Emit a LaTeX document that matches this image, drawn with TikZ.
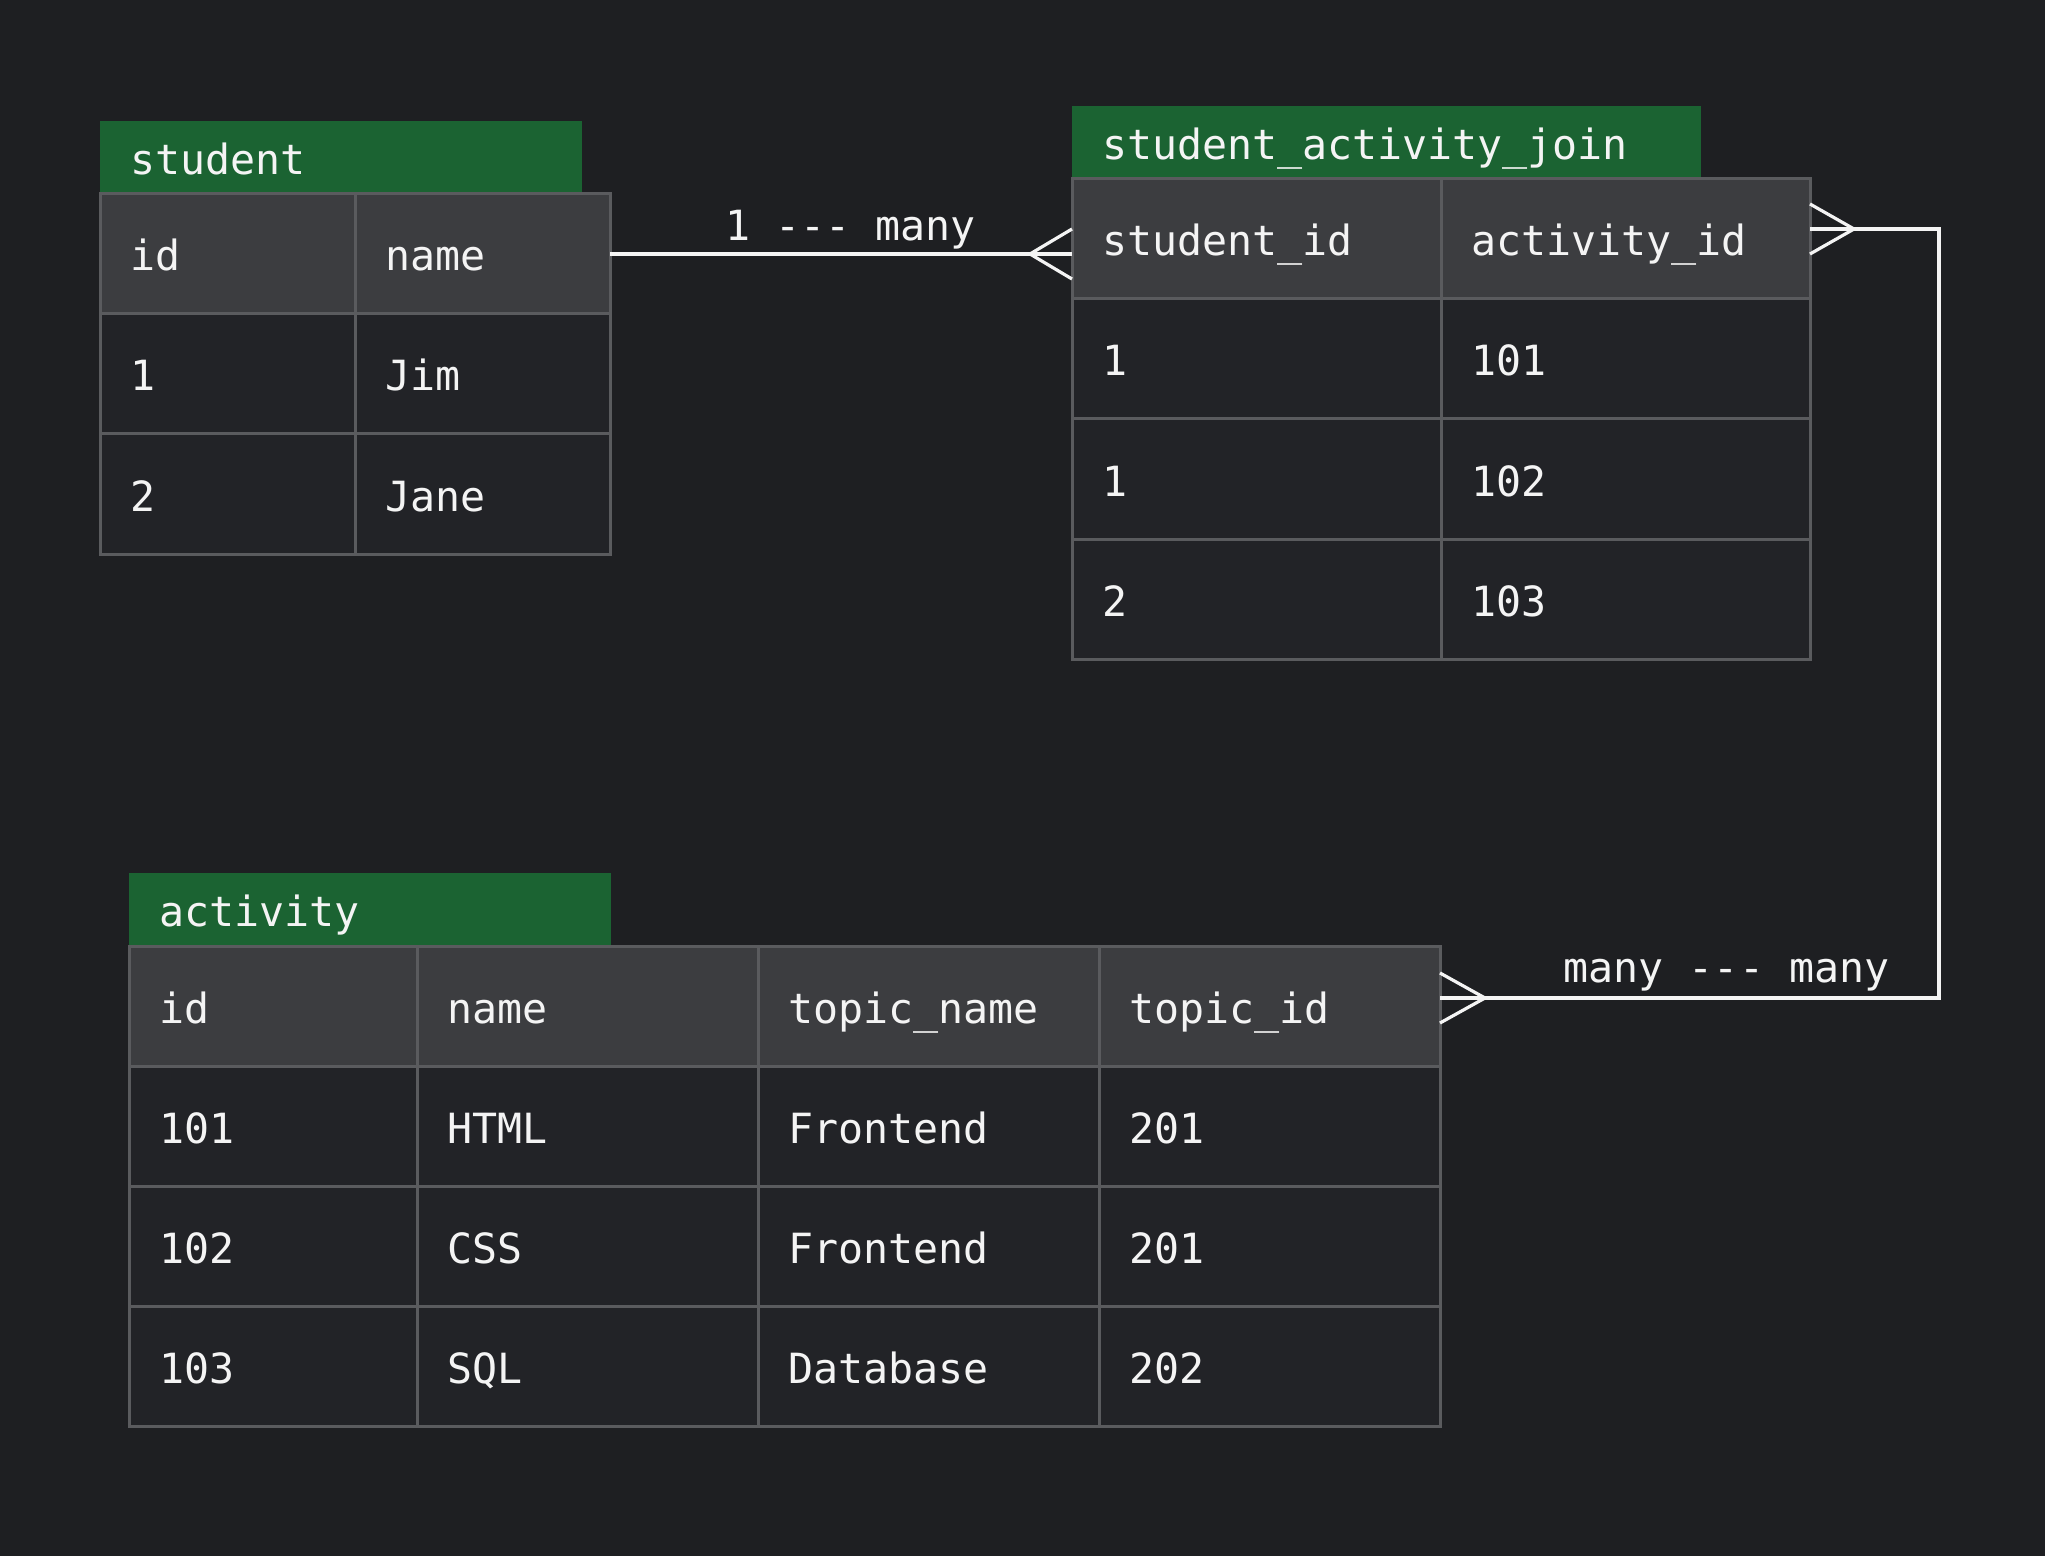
\documentclass[tikz,border=0pt]{standalone}
\usepackage{fontspec}
\setmonofont{DejaVu Sans Mono}
\usepackage{tikz}
\usetikzlibrary{positioning,calc}

\definecolor{canvas}{HTML}{1E1F22}
\definecolor{cellbg}{HTML}{222327}
\definecolor{headbg}{HTML}{3C3D40}
\definecolor{gridline}{HTML}{5A5B5E}
\definecolor{tablegreen}{HTML}{1B6332}
\definecolor{ink}{HTML}{F4F4F4}

\tikzset{
    cell/.style={draw=gridline, line width=1.5pt, fill=cellbg, text=ink,
        font=\ttfamily\fontsize{20.8pt}{25pt}\selectfont,
        text width=#1, align=left, inner xsep=15pt, minimum height=60pt,
        text height=20pt, text depth=3pt, outer sep=0pt},
    headcell/.style={cell=#1, fill=headbg},
    title/.style={fill=tablegreen, text=ink,
        font=\ttfamily\fontsize{20.8pt}{25pt}\selectfont,
        text width=#1, align=left, inner xsep=15pt, minimum height=36.5pt,
        text height=20pt, text depth=3pt, outer sep=0pt, anchor=north west},
    link/.style={draw=ink, line width=1.6pt},
    lbl/.style={text=ink, font=\ttfamily\fontsize{20.8pt}{25pt}\selectfont,
        inner sep=0pt, anchor=base}
}

\begin{document}
\begin{tikzpicture}
    % Canvas
    \fill[canvas] (0,0) rectangle (1022.5pt,-778pt);

    % Table: student
    \node [title=211pt] (student) at (50pt,-60.5pt) {student};
    \node [headcell=97.5pt, anchor=north west] (sIdHead) at (student.south west) {id};
    \node [headcell=97.5pt, right=0pt of sIdHead] (sNameHead) {name};
    \node [cell=97.5pt, below=0pt of sIdHead] (sId1) {1};
    \node [cell=97.5pt, below=0pt of sNameHead] (sName1) {Jim};
    \node [cell=97.5pt, below=0pt of sId1] (sId2) {2};
    \node [cell=97.5pt, below=0pt of sName1] (sName2) {Jane};

    % Table: student_activity_join
    \node [title=284.5pt] (join) at (536pt,-53pt) {student\_activity\_join};
    \node [headcell=154.5pt, anchor=north west] (jSidHead) at (join.south west) {student\_id};
    \node [headcell=154.5pt, right=0pt of jSidHead] (jAidHead) {activity\_id};
    \node [cell=154.5pt, below=0pt of jSidHead] (jSid1) {1};
    \node [cell=154.5pt, below=0pt of jAidHead] (jAid1) {101};
    \node [cell=154.5pt, below=0pt of jSid1] (jSid2) {1};
    \node [cell=154.5pt, below=0pt of jAid1] (jAid2) {102};
    \node [cell=154.5pt, below=0pt of jSid2] (jSid3) {2};
    \node [cell=154.5pt, below=0pt of jAid2] (jAid3) {103};

    % Table: activity
    \node [title=211pt] (activity) at (64.5pt,-436.5pt) {activity};
    \node [headcell=114pt, anchor=north west] (aIdHead) at (activity.south west) {id};
    \node [headcell=140.5pt, right=0pt of aIdHead] (aNameHead) {name};
    \node [headcell=140.5pt, right=0pt of aNameHead] (aTopicHead) {topic\_name};
    \node [headcell=140.5pt, right=0pt of aTopicHead] (aTidHead) {topic\_id};
    \node [cell=114pt, below=0pt of aIdHead] (aId1) {101};
    \node [cell=140.5pt, below=0pt of aNameHead] (aName1) {HTML};
    \node [cell=140.5pt, below=0pt of aTopicHead] (aTopic1) {Frontend};
    \node [cell=140.5pt, below=0pt of aTidHead] (aTid1) {201};
    \node [cell=114pt, below=0pt of aId1] (aId2) {102};
    \node [cell=140.5pt, below=0pt of aName1] (aName2) {CSS};
    \node [cell=140.5pt, below=0pt of aTopic1] (aTopic2) {Frontend};
    \node [cell=140.5pt, below=0pt of aTid1] (aTid2) {201};
    \node [cell=114pt, below=0pt of aId2] (aId3) {103};
    \node [cell=140.5pt, below=0pt of aName2] (aName3) {SQL};
    \node [cell=140.5pt, below=0pt of aTopic2] (aTopic3) {Database};
    \node [cell=140.5pt, below=0pt of aTid2] (aTid3) {202};

    % Connections
    \coordinate (jStart) at (sNameHead.east -| jSidHead.west);
    \draw [link] (sNameHead.east) -- node [lbl, pos=0.52, yshift=6.5pt] (oneMany) {1 --- many} (jStart);
    \draw [link] ($(jStart)+(0,12.5pt)$) -- ++(-21pt,-12.5pt) -- ++(21pt,-12.5pt);

    \coordinate (jEnd) at ($(jAidHead.east)+(0,5pt)$);
    \coordinate (aEnd) at ($(aTidHead.east)+(0,4pt)$);
    \coordinate (bend) at ($(jEnd)+(64.5pt,0)$);
    \draw [link] (jEnd) -- (bend) |- (aEnd);
    \draw [link] ($(jEnd)+(0,12.5pt)$) -- ++(22pt,-12.5pt) -- ++(-22pt,-12.5pt);
    \draw [link] ($(aEnd)+(0,12.5pt)$) -- ++(22.5pt,-12.5pt) -- ++(-22.5pt,-12.5pt);
    \node [lbl] (manyMany) at ($(aEnd)+(143.25pt,8pt)$) {many --- many};
\end{tikzpicture}
\end{document}
